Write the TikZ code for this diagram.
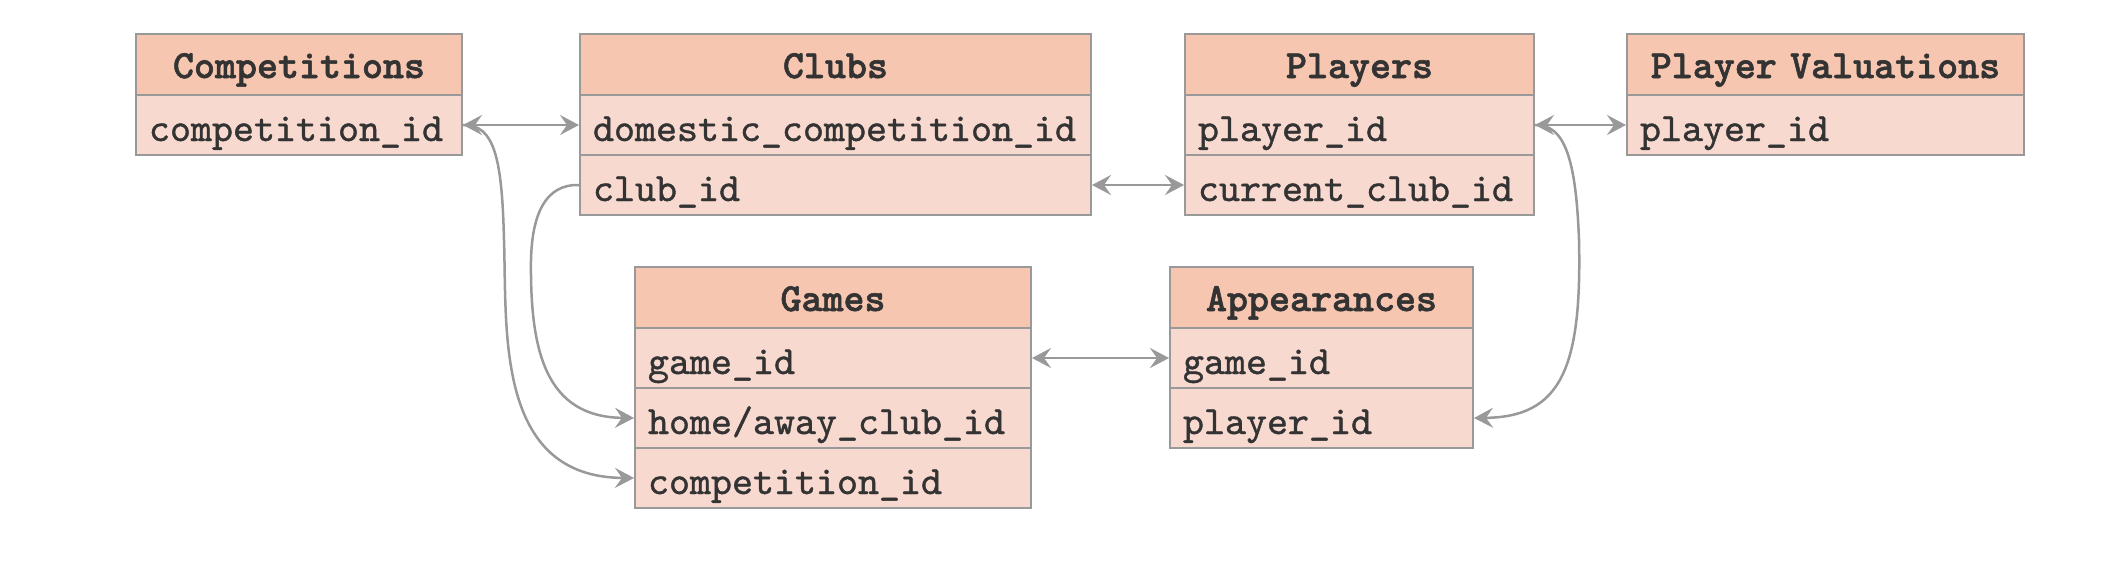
\documentclass[tikz,border=0pt]{standalone}
\usepackage{fontspec}
\newfontfamily\rowfont{lmmono10-regular.otf}[FakeBold=1]
\newfontfamily\hdrfont{lmmonolt10-bold.otf}[FakeBold=1.5]
\usetikzlibrary{arrows.meta}
\definecolor{hdrfill}{HTML}{F7C6B0}
\definecolor{rowfill}{HTML}{F8D9CF}
\definecolor{bordercol}{HTML}{999999}
\definecolor{txtcol}{HTML}{333333}
\definecolor{linecol}{HTML}{999999}
\tikzset{
  cell/.style={draw=bordercol, line width=2pt, anchor=north west, inner xsep=13pt, inner ysep=0pt, text=txtcol},
  hdr/.style={cell, fill=hdrfill, minimum height=61pt, text height=36pt, text depth=9pt, align=center, font=\hdrfont\fontsize{40}{44}\selectfont},
  row/.style={cell, fill=rowfill, minimum height=60pt, text height=40pt, text depth=8pt, align=left, font=\rowfont\fontsize{40}{44}\selectfont},
  conn/.style={draw=linecol, line width=2.5pt},
  tipend/.style={-{Stealth[length=19pt, width=20pt, inset=7pt]}},
  tipboth/.style={{Stealth[length=19pt, width=20pt, inset=7pt]}-{Stealth[length=19pt, width=20pt, inset=7pt]}}
}
\begin{document}
\begin{tikzpicture}[x=1pt, y=-1pt]
\useasboundingbox[fill=white] (0,0) rectangle (2120,566);
% Competitions
\node[hdr, text width=300pt] (comp) at (135,33) {Competitions};
\node[row, text width=300pt] (compid) at (135,94) {competition\_id};
% Clubs
\node[hdr, text width=485pt] (clubs) at (579,33) {Clubs};
\node[row, text width=485pt] (clubsdom) at (579,94) {domestic\_competition\_id};
\node[row, text width=485pt] (clubsid) at (579,154) {club\_id};
% Players
\node[hdr, text width=323pt] (pl) at (1184,33) {Players};
\node[row, text width=323pt] (plid) at (1184,94) {player\_id};
\node[row, text width=323pt] (plcur) at (1184,154) {current\_club\_id};
% Player Valuations
\node[hdr, text width=371pt] (pv) at (1626,33) {Player Valuations};
\node[row, text width=371pt] (pvid) at (1626,94) {player\_id};
% Games
\node[hdr, text width=370pt] (games) at (634,266) {Games};
\node[row, text width=370pt] (ggame) at (634,327) {game\_id};
\node[row, text width=370pt] (ghome) at (634,387) {home/away\_club\_id};
\node[row, text width=370pt] (gcomp) at (634,447) {competition\_id};
% Appearances
\node[hdr, text width=277pt] (app) at (1169,266) {Appearances};
\node[row, text width=277pt] (agame) at (1169,327) {game\_id};
\node[row, text width=277pt] (aplayer) at (1169,387) {player\_id};
% connectors
\draw[conn, tipboth] (compid.east) -- (clubsdom.west);
\draw[conn, tipboth] (clubsid.east) -- (plcur.west);
\draw[conn, tipboth] (plid.east) -- (pvid.west);
\draw[conn, tipboth] (ggame.east) -- (agame.west);
\draw[conn, tipend] (compid.east) .. controls (495,124) and (502,160) .. (504,240) .. controls (507,330) and (495,477) .. (gcomp.west);
\draw[conn, tipend] (clubsid.west) .. controls (545,184) and (532,215) .. (531,260) .. controls (530,350) and (545,417) .. (ghome.west);
\draw[conn, tipend] (plid.east) .. controls (1565,124) and (1576,160) .. (1579,240) .. controls (1582,370) and (1560,417) .. (aplayer.east);
\end{tikzpicture}
\end{document}
